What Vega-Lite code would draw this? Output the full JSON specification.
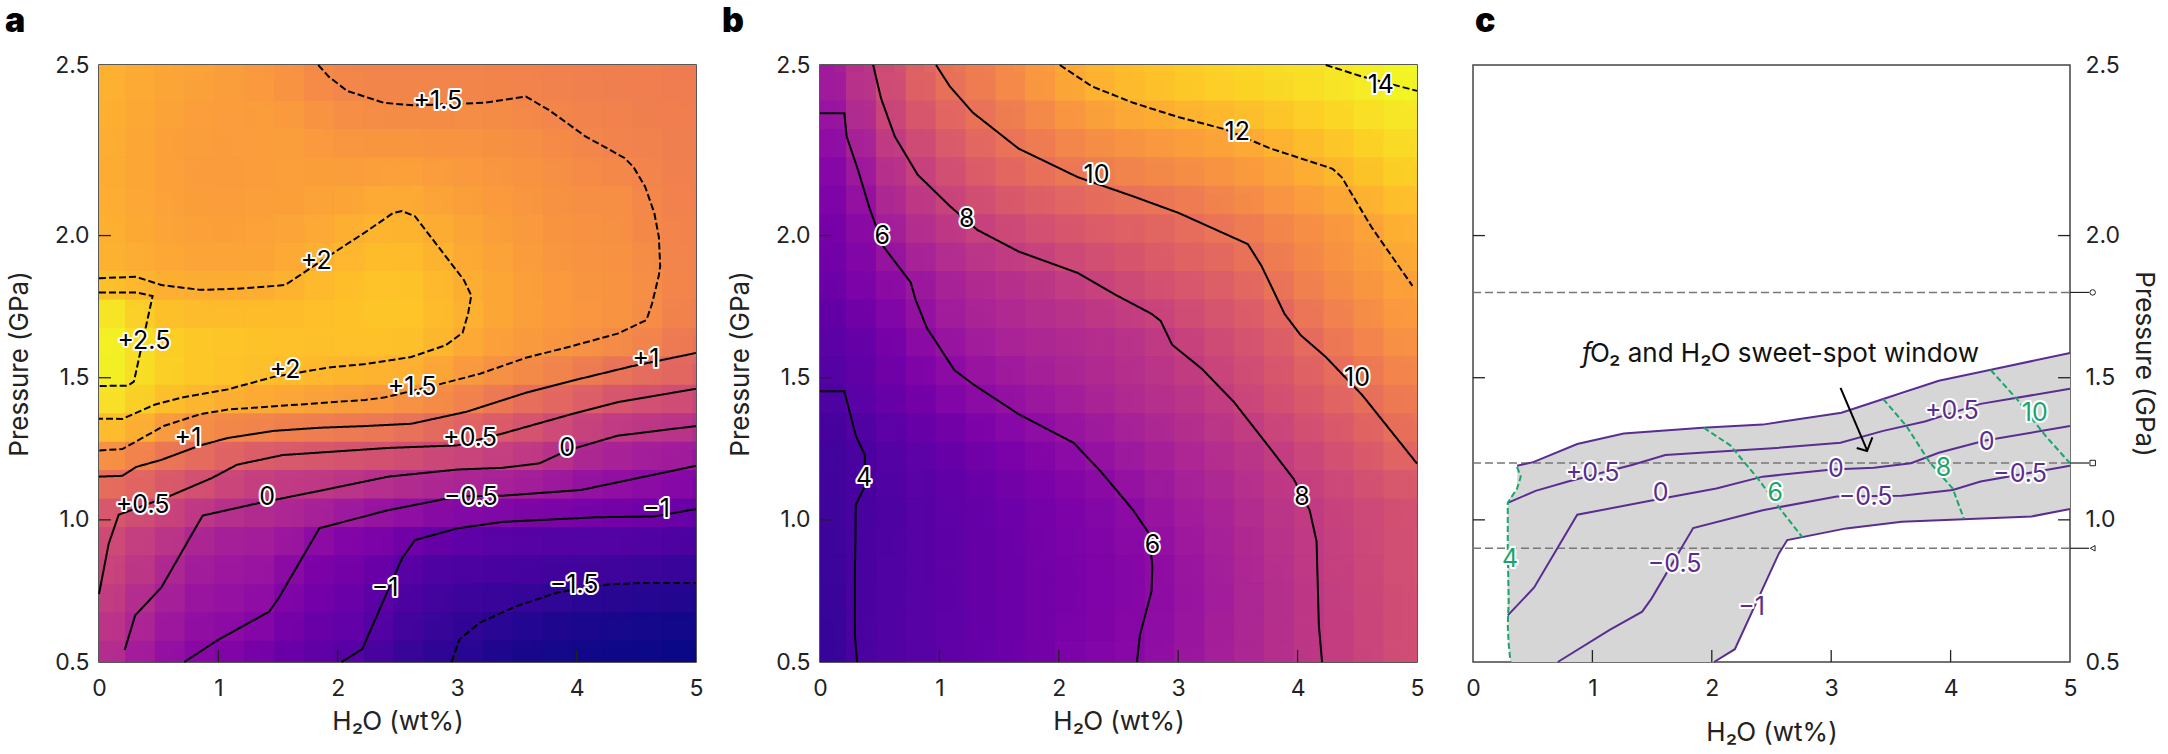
{
"$schema":"https://vega.github.io/schema/vega-lite/v6.json",
"padding":{"left":4,"top":4,"right":0,"bottom":0},
"background":"white",
"config":{"font":"Inter","view":{"stroke":"#222","strokeWidth":1.5},"axis":{"grid":false,"domain":false,"ticks":false,"labelFontSize":23,"titleFontSize":26,"labelColor":"#222","titleColor":"#222","titleFontWeight":"normal","labelPadding":10,"titlePadding":22,"zindex":1},"axisX":{"labelPadding":15,"titlePadding":8},"title":{"fontSize":34,"fontWeight":900,"color":"black","anchor":"start","frame":"group","offset":15}},
"datasets":{
"ticksAB":[
{"r":"x1","h":1,"p":0.5},{"r":"x1","h":1,"p":0.542},{"r":"x2","h":2,"p":0.5},{"r":"x2","h":2,"p":0.542},{"r":"x3","h":3,"p":0.5},{"r":"x3","h":3,"p":0.542},{"r":"x4","h":4,"p":0.5},{"r":"x4","h":4,"p":0.542},
{"r":"y1","h":0,"p":1},{"r":"y1","h":0.1,"p":1},{"r":"y2","h":0,"p":1.5},{"r":"y2","h":0.1,"p":1.5},{"r":"y3","h":0,"p":2},{"r":"y3","h":0.1,"p":2}
],
"ticksC":[
{"r":"x1","h":1,"p":0.5},{"r":"x1","h":1,"p":0.542},{"r":"x2","h":2,"p":0.5},{"r":"x2","h":2,"p":0.542},{"r":"x3","h":3,"p":0.5},{"r":"x3","h":3,"p":0.542},{"r":"x4","h":4,"p":0.5},{"r":"x4","h":4,"p":0.542},
{"r":"y1","h":0,"p":1},{"r":"y1","h":0.1,"p":1},{"r":"y2","h":0,"p":1.5},{"r":"y2","h":0.1,"p":1.5},{"r":"y3","h":0,"p":2},{"r":"y3","h":0.1,"p":2},
{"r":"z1","h":4.9,"p":1},{"r":"z1","h":5,"p":1},{"r":"z2","h":4.9,"p":1.5},{"r":"z2","h":5,"p":1.5},{"r":"z3","h":4.9,"p":2},{"r":"z3","h":5,"p":2}
],
"heatA":[
{"h":0,"p":0.5,"v":0.25},{"h":0.25,"p":0.5,"v":-0.12},{"h":0.5,"p":0.5,"v":-0.3},{"h":0.75,"p":0.5,"v":-0.52},{"h":1,"p":0.5,"v":-0.62},{"h":1.25,"p":0.5,"v":-0.72},{"h":1.5,"p":0.5,"v":-0.85},{"h":1.75,"p":0.5,"v":-0.95},{"h":2,"p":0.5,"v":-1.02},{"h":2.25,"p":0.5,"v":-1.2},{"h":2.5,"p":0.5,"v":-1.35},{"h":2.75,"p":0.5,"v":-1.45},{"h":3,"p":0.5,"v":-1.52},{"h":3.25,"p":0.5,"v":-1.6},{"h":3.5,"p":0.5,"v":-1.65},{"h":3.75,"p":0.5,"v":-1.68},{"h":4,"p":0.5,"v":-1.7},{"h":4.25,"p":0.5,"v":-1.72},{"h":4.5,"p":0.5,"v":-1.73},{"h":4.75,"p":0.5,"v":-1.74},{"h":5,"p":0.5,"v":-1.75},
{"h":0,"p":0.6,"v":0.36},{"h":0.25,"p":0.6,"v":0},{"h":0.5,"p":0.6,"v":-0.2},{"h":0.75,"p":0.6,"v":-0.38},{"h":1,"p":0.6,"v":-0.47},{"h":1.25,"p":0.6,"v":-0.56},{"h":1.5,"p":0.6,"v":-0.72},{"h":1.75,"p":0.6,"v":-0.85},{"h":2,"p":0.6,"v":-0.95},{"h":2.25,"p":0.6,"v":-1},{"h":2.5,"p":0.6,"v":-1.25},{"h":2.75,"p":0.6,"v":-1.38},{"h":3,"p":0.6,"v":-1.45},{"h":3.25,"p":0.6,"v":-1.53},{"h":3.5,"p":0.6,"v":-1.58},{"h":3.75,"p":0.6,"v":-1.62},{"h":4,"p":0.6,"v":-1.65},{"h":4.25,"p":0.6,"v":-1.67},{"h":4.5,"p":0.6,"v":-1.68},{"h":4.75,"p":0.6,"v":-1.7},{"h":5,"p":0.6,"v":-1.72},
{"h":0,"p":0.7,"v":0.46},{"h":0.25,"p":0.7,"v":0.12},{"h":0.5,"p":0.7,"v":-0.06},{"h":0.75,"p":0.7,"v":-0.27},{"h":1,"p":0.7,"v":-0.38},{"h":1.25,"p":0.7,"v":-0.42},{"h":1.5,"p":0.7,"v":-0.54},{"h":1.75,"p":0.7,"v":-0.75},{"h":2,"p":0.7,"v":-0.85},{"h":2.25,"p":0.7,"v":-0.92},{"h":2.5,"p":0.7,"v":-1.12},{"h":2.75,"p":0.7,"v":-1.28},{"h":3,"p":0.7,"v":-1.37},{"h":3.25,"p":0.7,"v":-1.43},{"h":3.5,"p":0.7,"v":-1.5},{"h":3.75,"p":0.7,"v":-1.54},{"h":4,"p":0.7,"v":-1.57},{"h":4.25,"p":0.7,"v":-1.6},{"h":4.5,"p":0.7,"v":-1.62},{"h":4.75,"p":0.7,"v":-1.64},{"h":5,"p":0.7,"v":-1.66},
{"h":0,"p":0.8,"v":0.57},{"h":0.25,"p":0.8,"v":0.24},{"h":0.5,"p":0.8,"v":0.08},{"h":0.75,"p":0.8,"v":-0.17},{"h":1,"p":0.8,"v":-0.28},{"h":1.25,"p":0.8,"v":-0.32},{"h":1.5,"p":0.8,"v":-0.38},{"h":1.75,"p":0.8,"v":-0.62},{"h":2,"p":0.8,"v":-0.75},{"h":2.25,"p":0.8,"v":-0.82},{"h":2.5,"p":0.8,"v":-1.02},{"h":2.75,"p":0.8,"v":-1.18},{"h":3,"p":0.8,"v":-1.25},{"h":3.25,"p":0.8,"v":-1.3},{"h":3.5,"p":0.8,"v":-1.33},{"h":3.75,"p":0.8,"v":-1.37},{"h":4,"p":0.8,"v":-1.42},{"h":4.25,"p":0.8,"v":-1.45},{"h":4.5,"p":0.8,"v":-1.48},{"h":4.75,"p":0.8,"v":-1.5},{"h":5,"p":0.8,"v":-1.52},
{"h":0,"p":0.9,"v":0.69},{"h":0.25,"p":0.9,"v":0.35},{"h":0.5,"p":0.9,"v":0.22},{"h":0.75,"p":0.9,"v":-0.05},{"h":1,"p":0.9,"v":-0.18},{"h":1.25,"p":0.9,"v":-0.22},{"h":1.5,"p":0.9,"v":-0.26},{"h":1.75,"p":0.9,"v":-0.5},{"h":2,"p":0.9,"v":-0.65},{"h":2.25,"p":0.9,"v":-0.7},{"h":2.5,"p":0.9,"v":-0.85},{"h":2.75,"p":0.9,"v":-1.07},{"h":3,"p":0.9,"v":-1.12},{"h":3.25,"p":0.9,"v":-1.15},{"h":3.5,"p":0.9,"v":-1.17},{"h":3.75,"p":0.9,"v":-1.18},{"h":4,"p":0.9,"v":-1.22},{"h":4.25,"p":0.9,"v":-1.23},{"h":4.5,"p":0.9,"v":-1.25},{"h":4.75,"p":0.9,"v":-1.28},{"h":5,"p":0.9,"v":-1.32},
{"h":0,"p":1,"v":0.8},{"h":0.25,"p":1,"v":0.46},{"h":0.5,"p":1,"v":0.38},{"h":0.75,"p":1,"v":0.2},{"h":1,"p":1,"v":-0.05},{"h":1.25,"p":1,"v":-0.1},{"h":1.5,"p":1,"v":-0.12},{"h":1.75,"p":1,"v":-0.25},{"h":2,"p":1,"v":-0.45},{"h":2.25,"p":1,"v":-0.55},{"h":2.5,"p":1,"v":-0.6},{"h":2.75,"p":1,"v":-0.75},{"h":3,"p":1,"v":-0.85},{"h":3.25,"p":1,"v":-0.92},{"h":3.5,"p":1,"v":-0.98},{"h":3.75,"p":1,"v":-1},{"h":4,"p":1,"v":-1.02},{"h":4.25,"p":1,"v":-1.02},{"h":4.5,"p":1,"v":-1.03},{"h":4.75,"p":1,"v":-1.05},{"h":5,"p":1,"v":-1.1},
{"h":0,"p":1.1,"v":0.93},{"h":0.25,"p":1.1,"v":0.72},{"h":0.5,"p":1.1,"v":0.62},{"h":0.75,"p":1.1,"v":0.42},{"h":1,"p":1.1,"v":0.3},{"h":1.25,"p":1.1,"v":0.17},{"h":1.5,"p":1.1,"v":0.1},{"h":1.75,"p":1.1,"v":0.03},{"h":2,"p":1.1,"v":-0.03},{"h":2.25,"p":1.1,"v":-0.15},{"h":2.5,"p":1.1,"v":-0.25},{"h":2.75,"p":1.1,"v":-0.32},{"h":3,"p":1.1,"v":-0.4},{"h":3.25,"p":1.1,"v":-0.42},{"h":3.5,"p":1.1,"v":-0.45},{"h":3.75,"p":1.1,"v":-0.5},{"h":4,"p":1.1,"v":-0.52},{"h":4.25,"p":1.1,"v":-0.6},{"h":4.5,"p":1.1,"v":-0.65},{"h":4.75,"p":1.1,"v":-0.72},{"h":5,"p":1.1,"v":-0.78},
{"h":0,"p":1.2,"v":1.22},{"h":0.25,"p":1.2,"v":1.1},{"h":0.5,"p":1.2,"v":0.98},{"h":0.75,"p":1.2,"v":0.8},{"h":1,"p":1.2,"v":0.7},{"h":1.25,"p":1.2,"v":0.5},{"h":1.5,"p":1.2,"v":0.42},{"h":1.75,"p":1.2,"v":0.38},{"h":2,"p":1.2,"v":0.35},{"h":2.25,"p":1.2,"v":0.3},{"h":2.5,"p":1.2,"v":0.22},{"h":2.75,"p":1.2,"v":0.17},{"h":3,"p":1.2,"v":0.12},{"h":3.25,"p":1.2,"v":0.08},{"h":3.5,"p":1.2,"v":0.03},{"h":3.75,"p":1.2,"v":-0.05},{"h":4,"p":1.2,"v":-0.18},{"h":4.25,"p":1.2,"v":-0.28},{"h":4.5,"p":1.2,"v":-0.3},{"h":4.75,"p":1.2,"v":-0.38},{"h":5,"p":1.2,"v":-0.44},
{"h":0,"p":1.3,"v":1.75},{"h":0.25,"p":1.3,"v":1.62},{"h":0.5,"p":1.3,"v":1.4},{"h":0.75,"p":1.3,"v":1.2},{"h":1,"p":1.3,"v":1.1},{"h":1.25,"p":1.3,"v":1},{"h":1.5,"p":1.3,"v":0.92},{"h":1.75,"p":1.3,"v":0.87},{"h":2,"p":1.3,"v":0.83},{"h":2.25,"p":1.3,"v":0.8},{"h":2.5,"p":1.3,"v":0.78},{"h":2.75,"p":1.3,"v":0.7},{"h":3,"p":1.3,"v":0.6},{"h":3.25,"p":1.3,"v":0.57},{"h":3.5,"p":1.3,"v":0.44},{"h":3.75,"p":1.3,"v":0.35},{"h":4,"p":1.3,"v":0.2},{"h":4.25,"p":1.3,"v":0.05},{"h":4.5,"p":1.3,"v":-0.03},{"h":4.75,"p":1.3,"v":-0.07},{"h":5,"p":1.3,"v":-0.1},
{"h":0,"p":1.4,"v":2.2},{"h":0.25,"p":1.4,"v":2.2},{"h":0.5,"p":1.4,"v":1.95},{"h":0.75,"p":1.4,"v":1.68},{"h":1,"p":1.4,"v":1.58},{"h":1.25,"p":1.4,"v":1.53},{"h":1.5,"p":1.4,"v":1.5},{"h":1.75,"p":1.4,"v":1.45},{"h":2,"p":1.4,"v":1.4},{"h":2.25,"p":1.4,"v":1.38},{"h":2.5,"p":1.4,"v":1.32},{"h":2.75,"p":1.4,"v":1.22},{"h":3,"p":1.4,"v":1.1},{"h":3.25,"p":1.4,"v":1},{"h":3.5,"p":1.4,"v":0.85},{"h":3.75,"p":1.4,"v":0.75},{"h":4,"p":1.4,"v":0.6},{"h":4.25,"p":1.4,"v":0.47},{"h":4.5,"p":1.4,"v":0.38},{"h":4.75,"p":1.4,"v":0.32},{"h":5,"p":1.4,"v":0.25},
{"h":0,"p":1.5,"v":2.55},{"h":0.25,"p":1.5,"v":2.53},{"h":0.5,"p":1.5,"v":2.25},{"h":0.75,"p":1.5,"v":2.15},{"h":1,"p":1.5,"v":2.08},{"h":1.25,"p":1.5,"v":2},{"h":1.5,"p":1.5,"v":1.95},{"h":1.75,"p":1.5,"v":1.9},{"h":2,"p":1.5,"v":1.85},{"h":2.25,"p":1.5,"v":1.8},{"h":2.5,"p":1.5,"v":1.72},{"h":2.75,"p":1.5,"v":1.62},{"h":3,"p":1.5,"v":1.55},{"h":3.25,"p":1.5,"v":1.4},{"h":3.5,"p":1.5,"v":1.28},{"h":3.75,"p":1.5,"v":1.14},{"h":4,"p":1.5,"v":1.04},{"h":4.25,"p":1.5,"v":0.92},{"h":4.5,"p":1.5,"v":0.8},{"h":4.75,"p":1.5,"v":0.72},{"h":5,"p":1.5,"v":0.65},
{"h":0,"p":1.6,"v":2.65},{"h":0.25,"p":1.6,"v":2.6},{"h":0.5,"p":1.6,"v":2.35},{"h":0.75,"p":1.6,"v":2.25},{"h":1,"p":1.6,"v":2.2},{"h":1.25,"p":1.6,"v":2.17},{"h":1.5,"p":1.6,"v":2.12},{"h":1.75,"p":1.6,"v":2.1},{"h":2,"p":1.6,"v":2.07},{"h":2.25,"p":1.6,"v":2.05},{"h":2.5,"p":1.6,"v":2.05},{"h":2.75,"p":1.6,"v":2},{"h":3,"p":1.6,"v":1.82},{"h":3.25,"p":1.6,"v":1.68},{"h":3.5,"p":1.6,"v":1.58},{"h":3.75,"p":1.6,"v":1.53},{"h":4,"p":1.6,"v":1.44},{"h":4.25,"p":1.6,"v":1.33},{"h":4.5,"p":1.6,"v":1.2},{"h":4.75,"p":1.6,"v":1.12},{"h":5,"p":1.6,"v":1.05},
{"h":0,"p":1.7,"v":2.62},{"h":0.25,"p":1.7,"v":2.58},{"h":0.5,"p":1.7,"v":2.32},{"h":0.75,"p":1.7,"v":2.22},{"h":1,"p":1.7,"v":2.18},{"h":1.25,"p":1.7,"v":2.15},{"h":1.5,"p":1.7,"v":2.12},{"h":1.75,"p":1.7,"v":2.12},{"h":2,"p":1.7,"v":2.12},{"h":2.25,"p":1.7,"v":2.15},{"h":2.5,"p":1.7,"v":2.15},{"h":2.75,"p":1.7,"v":2.12},{"h":3,"p":1.7,"v":2},{"h":3.25,"p":1.7,"v":1.85},{"h":3.5,"p":1.7,"v":1.75},{"h":3.75,"p":1.7,"v":1.68},{"h":4,"p":1.7,"v":1.63},{"h":4.25,"p":1.7,"v":1.58},{"h":4.5,"p":1.7,"v":1.52},{"h":4.75,"p":1.7,"v":1.4},{"h":5,"p":1.7,"v":1.25},
{"h":0,"p":1.8,"v":2.5},{"h":0.25,"p":1.8,"v":2.45},{"h":0.5,"p":1.8,"v":2.1},{"h":0.75,"p":1.8,"v":2.05},{"h":1,"p":1.8,"v":2.02},{"h":1.25,"p":1.8,"v":2.03},{"h":1.5,"p":1.8,"v":2.03},{"h":1.75,"p":1.8,"v":2.07},{"h":2,"p":1.8,"v":2.1},{"h":2.25,"p":1.8,"v":2.15},{"h":2.5,"p":1.8,"v":2.2},{"h":2.75,"p":1.8,"v":2.15},{"h":3,"p":1.8,"v":2.02},{"h":3.25,"p":1.8,"v":1.9},{"h":3.5,"p":1.8,"v":1.8},{"h":3.75,"p":1.8,"v":1.72},{"h":4,"p":1.8,"v":1.65},{"h":4.25,"p":1.8,"v":1.62},{"h":4.5,"p":1.8,"v":1.58},{"h":4.75,"p":1.8,"v":1.48},{"h":5,"p":1.8,"v":1.33},
{"h":0,"p":1.9,"v":2},{"h":0.25,"p":1.9,"v":1.97},{"h":0.5,"p":1.9,"v":1.9},{"h":0.75,"p":1.9,"v":1.87},{"h":1,"p":1.9,"v":1.85},{"h":1.25,"p":1.9,"v":1.86},{"h":1.5,"p":1.9,"v":1.88},{"h":1.75,"p":1.9,"v":1.98},{"h":2,"p":1.9,"v":2.05},{"h":2.25,"p":1.9,"v":2.1},{"h":2.5,"p":1.9,"v":2.15},{"h":2.75,"p":1.9,"v":2.1},{"h":3,"p":1.9,"v":1.97},{"h":3.25,"p":1.9,"v":1.87},{"h":3.5,"p":1.9,"v":1.78},{"h":3.75,"p":1.9,"v":1.7},{"h":4,"p":1.9,"v":1.63},{"h":4.25,"p":1.9,"v":1.6},{"h":4.5,"p":1.9,"v":1.56},{"h":4.75,"p":1.9,"v":1.48},{"h":5,"p":1.9,"v":1.36},
{"h":0,"p":2,"v":1.95},{"h":0.25,"p":2,"v":1.93},{"h":0.5,"p":2,"v":1.85},{"h":0.75,"p":2,"v":1.8},{"h":1,"p":2,"v":1.77},{"h":1.25,"p":2,"v":1.79},{"h":1.5,"p":2,"v":1.8},{"h":1.75,"p":2,"v":1.85},{"h":2,"p":2,"v":1.93},{"h":2.25,"p":2,"v":2.02},{"h":2.5,"p":2,"v":2.07},{"h":2.75,"p":2,"v":2.02},{"h":3,"p":2,"v":1.9},{"h":3.25,"p":2,"v":1.82},{"h":3.5,"p":2,"v":1.74},{"h":3.75,"p":2,"v":1.67},{"h":4,"p":2,"v":1.6},{"h":4.25,"p":2,"v":1.57},{"h":4.5,"p":2,"v":1.55},{"h":4.75,"p":2,"v":1.46},{"h":5,"p":2,"v":1.36},
{"h":0,"p":2.1,"v":1.93},{"h":0.25,"p":2.1,"v":1.9},{"h":0.5,"p":2.1,"v":1.82},{"h":0.75,"p":2.1,"v":1.76},{"h":1,"p":2.1,"v":1.73},{"h":1.25,"p":2.1,"v":1.74},{"h":1.5,"p":2.1,"v":1.76},{"h":1.75,"p":2.1,"v":1.78},{"h":2,"p":2.1,"v":1.85},{"h":2.25,"p":2.1,"v":1.92},{"h":2.5,"p":2.1,"v":1.98},{"h":2.75,"p":2.1,"v":1.93},{"h":3,"p":2.1,"v":1.83},{"h":3.25,"p":2.1,"v":1.76},{"h":3.5,"p":2.1,"v":1.7},{"h":3.75,"p":2.1,"v":1.63},{"h":4,"p":2.1,"v":1.57},{"h":4.25,"p":2.1,"v":1.55},{"h":4.5,"p":2.1,"v":1.52},{"h":4.75,"p":2.1,"v":1.42},{"h":5,"p":2.1,"v":1.35},
{"h":0,"p":2.2,"v":1.92},{"h":0.25,"p":2.2,"v":1.88},{"h":0.5,"p":2.2,"v":1.8},{"h":0.75,"p":2.2,"v":1.73},{"h":1,"p":2.2,"v":1.7},{"h":1.25,"p":2.2,"v":1.71},{"h":1.5,"p":2.2,"v":1.73},{"h":1.75,"p":2.2,"v":1.75},{"h":2,"p":2.2,"v":1.77},{"h":2.25,"p":2.2,"v":1.8},{"h":2.5,"p":2.2,"v":1.85},{"h":2.75,"p":2.2,"v":1.82},{"h":3,"p":2.2,"v":1.75},{"h":3.25,"p":2.2,"v":1.7},{"h":3.5,"p":2.2,"v":1.65},{"h":3.75,"p":2.2,"v":1.6},{"h":4,"p":2.2,"v":1.54},{"h":4.25,"p":2.2,"v":1.52},{"h":4.5,"p":2.2,"v":1.5},{"h":4.75,"p":2.2,"v":1.38},{"h":5,"p":2.2,"v":1.34},
{"h":0,"p":2.3,"v":1.92},{"h":0.25,"p":2.3,"v":1.87},{"h":0.5,"p":2.3,"v":1.79},{"h":0.75,"p":2.3,"v":1.72},{"h":1,"p":2.3,"v":1.68},{"h":1.25,"p":2.3,"v":1.7},{"h":1.5,"p":2.3,"v":1.72},{"h":1.75,"p":2.3,"v":1.73},{"h":2,"p":2.3,"v":1.7},{"h":2.25,"p":2.3,"v":1.7},{"h":2.5,"p":2.3,"v":1.72},{"h":2.75,"p":2.3,"v":1.71},{"h":3,"p":2.3,"v":1.67},{"h":3.25,"p":2.3,"v":1.63},{"h":3.5,"p":2.3,"v":1.6},{"h":3.75,"p":2.3,"v":1.57},{"h":4,"p":2.3,"v":1.51},{"h":4.25,"p":2.3,"v":1.44},{"h":4.5,"p":2.3,"v":1.4},{"h":4.75,"p":2.3,"v":1.35},{"h":5,"p":2.3,"v":1.32},
{"h":0,"p":2.4,"v":1.93},{"h":0.25,"p":2.4,"v":1.88},{"h":0.5,"p":2.4,"v":1.8},{"h":0.75,"p":2.4,"v":1.73},{"h":1,"p":2.4,"v":1.69},{"h":1.25,"p":2.4,"v":1.71},{"h":1.5,"p":2.4,"v":1.72},{"h":1.75,"p":2.4,"v":1.69},{"h":2,"p":2.4,"v":1.62},{"h":2.25,"p":2.4,"v":1.6},{"h":2.5,"p":2.4,"v":1.58},{"h":2.75,"p":2.4,"v":1.6},{"h":3,"p":2.4,"v":1.57},{"h":3.25,"p":2.4,"v":1.56},{"h":3.5,"p":2.4,"v":1.54},{"h":3.75,"p":2.4,"v":1.49},{"h":4,"p":2.4,"v":1.44},{"h":4.25,"p":2.4,"v":1.39},{"h":4.5,"p":2.4,"v":1.36},{"h":4.75,"p":2.4,"v":1.33},{"h":5,"p":2.4,"v":1.31},
{"h":0,"p":2.5,"v":1.95},{"h":0.25,"p":2.5,"v":1.9},{"h":0.5,"p":2.5,"v":1.82},{"h":0.75,"p":2.5,"v":1.76},{"h":1,"p":2.5,"v":1.72},{"h":1.25,"p":2.5,"v":1.72},{"h":1.5,"p":2.5,"v":1.7},{"h":1.75,"p":2.5,"v":1.63},{"h":2,"p":2.5,"v":1.53},{"h":2.25,"p":2.5,"v":1.48},{"h":2.5,"p":2.5,"v":1.47},{"h":2.75,"p":2.5,"v":1.47},{"h":3,"p":2.5,"v":1.47},{"h":3.25,"p":2.5,"v":1.48},{"h":3.5,"p":2.5,"v":1.47},{"h":3.75,"p":2.5,"v":1.42},{"h":4,"p":2.5,"v":1.38},{"h":4.25,"p":2.5,"v":1.36},{"h":4.5,"p":2.5,"v":1.34},{"h":4.75,"p":2.5,"v":1.31},{"h":5,"p":2.5,"v":1.3},
{"h":0,"p":2.6,"v":1.97},{"h":0.25,"p":2.6,"v":1.92},{"h":0.5,"p":2.6,"v":1.84},{"h":0.75,"p":2.6,"v":1.8},{"h":1,"p":2.6,"v":1.76},{"h":1.25,"p":2.6,"v":1.68},{"h":1.5,"p":2.6,"v":1.62},{"h":1.75,"p":2.6,"v":1.53},{"h":2,"p":2.6,"v":1.42},{"h":2.25,"p":2.6,"v":1.38},{"h":2.5,"p":2.6,"v":1.38},{"h":2.75,"p":2.6,"v":1.38},{"h":3,"p":2.6,"v":1.38},{"h":3.25,"p":2.6,"v":1.38},{"h":3.5,"p":2.6,"v":1.37},{"h":3.75,"p":2.6,"v":1.35},{"h":4,"p":2.6,"v":1.33},{"h":4.25,"p":2.6,"v":1.32},{"h":4.5,"p":2.6,"v":1.31},{"h":4.75,"p":2.6,"v":1.3},{"h":5,"p":2.6,"v":1.28}
],
"heatB":[
{"h":0,"p":0.5,"v":3.1},{"h":0.25,"p":0.5,"v":3.85},{"h":0.5,"p":0.5,"v":4.2},{"h":0.75,"p":0.5,"v":4.4},{"h":1,"p":0.5,"v":4.6},{"h":1.25,"p":0.5,"v":4.8},{"h":1.5,"p":0.5,"v":5},{"h":1.75,"p":0.5,"v":5.25},{"h":2,"p":0.5,"v":5.45},{"h":2.25,"p":0.5,"v":5.65},{"h":2.5,"p":0.5,"v":5.87},{"h":2.75,"p":0.5,"v":6.13},{"h":3,"p":0.5,"v":6.45},{"h":3.25,"p":0.5,"v":6.77},{"h":3.5,"p":0.5,"v":7.1},{"h":3.75,"p":0.5,"v":7.42},{"h":4,"p":0.5,"v":7.75},{"h":4.25,"p":0.5,"v":8.05},{"h":4.5,"p":0.5,"v":8.35},{"h":4.75,"p":0.5,"v":8.65},{"h":5,"p":0.5,"v":8.95},
{"h":0,"p":0.6,"v":3.15},{"h":0.25,"p":0.6,"v":3.87},{"h":0.5,"p":0.6,"v":4.2},{"h":0.75,"p":0.6,"v":4.4},{"h":1,"p":0.6,"v":4.6},{"h":1.25,"p":0.6,"v":4.8},{"h":1.5,"p":0.6,"v":5},{"h":1.75,"p":0.6,"v":5.22},{"h":2,"p":0.6,"v":5.43},{"h":2.25,"p":0.6,"v":5.63},{"h":2.5,"p":0.6,"v":5.84},{"h":2.75,"p":0.6,"v":6.07},{"h":3,"p":0.6,"v":6.4},{"h":3.25,"p":0.6,"v":6.73},{"h":3.5,"p":0.6,"v":7.07},{"h":3.75,"p":0.6,"v":7.41},{"h":4,"p":0.6,"v":7.75},{"h":4.25,"p":0.6,"v":8.07},{"h":4.5,"p":0.6,"v":8.37},{"h":4.75,"p":0.6,"v":8.67},{"h":5,"p":0.6,"v":8.97},
{"h":0,"p":0.7,"v":3.2},{"h":0.25,"p":0.7,"v":3.88},{"h":0.5,"p":0.7,"v":4.19},{"h":0.75,"p":0.7,"v":4.38},{"h":1,"p":0.7,"v":4.59},{"h":1.25,"p":0.7,"v":4.79},{"h":1.5,"p":0.7,"v":4.99},{"h":1.75,"p":0.7,"v":5.2},{"h":2,"p":0.7,"v":5.4},{"h":2.25,"p":0.7,"v":5.6},{"h":2.5,"p":0.7,"v":5.8},{"h":2.75,"p":0.7,"v":6},{"h":3,"p":0.7,"v":6.34},{"h":3.25,"p":0.7,"v":6.7},{"h":3.5,"p":0.7,"v":7.05},{"h":3.75,"p":0.7,"v":7.4},{"h":4,"p":0.7,"v":7.75},{"h":4.25,"p":0.7,"v":8.08},{"h":4.5,"p":0.7,"v":8.38},{"h":4.75,"p":0.7,"v":8.68},{"h":5,"p":0.7,"v":8.98},
{"h":0,"p":0.8,"v":3.3},{"h":0.25,"p":0.8,"v":3.9},{"h":0.5,"p":0.8,"v":4.18},{"h":0.75,"p":0.8,"v":4.37},{"h":1,"p":0.8,"v":4.58},{"h":1.25,"p":0.8,"v":4.78},{"h":1.5,"p":0.8,"v":4.98},{"h":1.75,"p":0.8,"v":5.18},{"h":2,"p":0.8,"v":5.38},{"h":2.25,"p":0.8,"v":5.58},{"h":2.5,"p":0.8,"v":5.78},{"h":2.75,"p":0.8,"v":5.97},{"h":3,"p":0.8,"v":6.3},{"h":3.25,"p":0.8,"v":6.67},{"h":3.5,"p":0.8,"v":7.03},{"h":3.75,"p":0.8,"v":7.4},{"h":4,"p":0.8,"v":7.75},{"h":4.25,"p":0.8,"v":8.1},{"h":4.5,"p":0.8,"v":8.4},{"h":4.75,"p":0.8,"v":8.7},{"h":5,"p":0.8,"v":9},
{"h":0,"p":0.9,"v":3.4},{"h":0.25,"p":0.9,"v":3.92},{"h":0.5,"p":0.9,"v":4.16},{"h":0.75,"p":0.9,"v":4.36},{"h":1,"p":0.9,"v":4.58},{"h":1.25,"p":0.9,"v":4.78},{"h":1.5,"p":0.9,"v":4.99},{"h":1.75,"p":0.9,"v":5.2},{"h":2,"p":0.9,"v":5.41},{"h":2.25,"p":0.9,"v":5.62},{"h":2.5,"p":0.9,"v":5.82},{"h":2.75,"p":0.9,"v":6.02},{"h":3,"p":0.9,"v":6.4},{"h":3.25,"p":0.9,"v":6.75},{"h":3.5,"p":0.9,"v":7.1},{"h":3.75,"p":0.9,"v":7.47},{"h":4,"p":0.9,"v":7.82},{"h":4.25,"p":0.9,"v":8.15},{"h":4.5,"p":0.9,"v":8.46},{"h":4.75,"p":0.9,"v":8.75},{"h":5,"p":0.9,"v":9.03},
{"h":0,"p":1,"v":3.5},{"h":0.25,"p":1,"v":3.93},{"h":0.5,"p":1,"v":4.14},{"h":0.75,"p":1,"v":4.35},{"h":1,"p":1,"v":4.58},{"h":1.25,"p":1,"v":4.79},{"h":1.5,"p":1,"v":5.01},{"h":1.75,"p":1,"v":5.22},{"h":2,"p":1,"v":5.45},{"h":2.25,"p":1,"v":5.66},{"h":2.5,"p":1,"v":5.88},{"h":2.75,"p":1,"v":6.15},{"h":3,"p":1,"v":6.52},{"h":3.25,"p":1,"v":6.88},{"h":3.5,"p":1,"v":7.2},{"h":3.75,"p":1,"v":7.55},{"h":4,"p":1,"v":7.9},{"h":4.25,"p":1,"v":8.22},{"h":4.5,"p":1,"v":8.52},{"h":4.75,"p":1,"v":8.8},{"h":5,"p":1,"v":9.06},
{"h":0,"p":1.1,"v":3.6},{"h":0.25,"p":1.1,"v":3.92},{"h":0.5,"p":1.1,"v":4.12},{"h":0.75,"p":1.1,"v":4.35},{"h":1,"p":1.1,"v":4.58},{"h":1.25,"p":1.1,"v":4.8},{"h":1.5,"p":1.1,"v":5.03},{"h":1.75,"p":1.1,"v":5.25},{"h":2,"p":1.1,"v":5.5},{"h":2.25,"p":1.1,"v":5.72},{"h":2.5,"p":1.1,"v":5.95},{"h":2.75,"p":1.1,"v":6.3},{"h":3,"p":1.1,"v":6.65},{"h":3.25,"p":1.1,"v":7},{"h":3.5,"p":1.1,"v":7.3},{"h":3.75,"p":1.1,"v":7.65},{"h":4,"p":1.1,"v":8},{"h":4.25,"p":1.1,"v":8.3},{"h":4.5,"p":1.1,"v":8.6},{"h":4.75,"p":1.1,"v":8.85},{"h":5,"p":1.1,"v":9.1},
{"h":0,"p":1.2,"v":3.7},{"h":0.25,"p":1.2,"v":3.92},{"h":0.5,"p":1.2,"v":4.16},{"h":0.75,"p":1.2,"v":4.43},{"h":1,"p":1.2,"v":4.7},{"h":1.25,"p":1.2,"v":4.95},{"h":1.5,"p":1.2,"v":5.2},{"h":1.75,"p":1.2,"v":5.47},{"h":2,"p":1.2,"v":5.73},{"h":2.25,"p":1.2,"v":6},{"h":2.5,"p":1.2,"v":6.27},{"h":2.75,"p":1.2,"v":6.6},{"h":3,"p":1.2,"v":6.9},{"h":3.25,"p":1.2,"v":7.22},{"h":3.5,"p":1.2,"v":7.5},{"h":3.75,"p":1.2,"v":7.83},{"h":4,"p":1.2,"v":8.2},{"h":4.25,"p":1.2,"v":8.55},{"h":4.5,"p":1.2,"v":8.9},{"h":4.75,"p":1.2,"v":9.22},{"h":5,"p":1.2,"v":9.55},
{"h":0,"p":1.3,"v":3.8},{"h":0.25,"p":1.3,"v":3.95},{"h":0.5,"p":1.3,"v":4.25},{"h":0.75,"p":1.3,"v":4.55},{"h":1,"p":1.3,"v":4.85},{"h":1.25,"p":1.3,"v":5.12},{"h":1.5,"p":1.3,"v":5.4},{"h":1.75,"p":1.3,"v":5.7},{"h":2,"p":1.3,"v":6},{"h":2.25,"p":1.3,"v":6.3},{"h":2.5,"p":1.3,"v":6.6},{"h":2.75,"p":1.3,"v":6.9},{"h":3,"p":1.3,"v":7.15},{"h":3.25,"p":1.3,"v":7.45},{"h":3.5,"p":1.3,"v":7.72},{"h":3.75,"p":1.3,"v":8.05},{"h":4,"p":1.3,"v":8.45},{"h":4.25,"p":1.3,"v":8.85},{"h":4.5,"p":1.3,"v":9.25},{"h":4.75,"p":1.3,"v":9.65},{"h":5,"p":1.3,"v":10.1},
{"h":0,"p":1.4,"v":3.93},{"h":0.25,"p":1.4,"v":4.15},{"h":0.5,"p":1.4,"v":4.5},{"h":0.75,"p":1.4,"v":4.85},{"h":1,"p":1.4,"v":5.2},{"h":1.25,"p":1.4,"v":5.55},{"h":1.5,"p":1.4,"v":5.9},{"h":1.75,"p":1.4,"v":6.15},{"h":2,"p":1.4,"v":6.42},{"h":2.25,"p":1.4,"v":6.7},{"h":2.5,"p":1.4,"v":6.97},{"h":2.75,"p":1.4,"v":7.25},{"h":3,"p":1.4,"v":7.5},{"h":3.25,"p":1.4,"v":7.75},{"h":3.5,"p":1.4,"v":8.08},{"h":3.75,"p":1.4,"v":8.45},{"h":4,"p":1.4,"v":8.85},{"h":4.25,"p":1.4,"v":9.25},{"h":4.5,"p":1.4,"v":9.65},{"h":4.75,"p":1.4,"v":10.05},{"h":5,"p":1.4,"v":10.5},
{"h":0,"p":1.5,"v":4.1},{"h":0.25,"p":1.5,"v":4.4},{"h":0.5,"p":1.5,"v":4.8},{"h":0.75,"p":1.5,"v":5.2},{"h":1,"p":1.5,"v":5.6},{"h":1.25,"p":1.5,"v":6.05},{"h":1.5,"p":1.5,"v":6.35},{"h":1.75,"p":1.5,"v":6.6},{"h":2,"p":1.5,"v":6.85},{"h":2.25,"p":1.5,"v":7.1},{"h":2.5,"p":1.5,"v":7.35},{"h":2.75,"p":1.5,"v":7.6},{"h":3,"p":1.5,"v":7.85},{"h":3.25,"p":1.5,"v":8.05},{"h":3.5,"p":1.5,"v":8.45},{"h":3.75,"p":1.5,"v":8.85},{"h":4,"p":1.5,"v":9.25},{"h":4.25,"p":1.5,"v":9.65},{"h":4.5,"p":1.5,"v":10.1},{"h":4.75,"p":1.5,"v":10.5},{"h":5,"p":1.5,"v":10.9},
{"h":0,"p":1.6,"v":4.3},{"h":0.25,"p":1.6,"v":4.55},{"h":0.5,"p":1.6,"v":4.95},{"h":0.75,"p":1.6,"v":5.45},{"h":1,"p":1.6,"v":6},{"h":1.25,"p":1.6,"v":6.4},{"h":1.5,"p":1.6,"v":6.7},{"h":1.75,"p":1.6,"v":6.95},{"h":2,"p":1.6,"v":7.15},{"h":2.25,"p":1.6,"v":7.35},{"h":2.5,"p":1.6,"v":7.55},{"h":2.75,"p":1.6,"v":7.75},{"h":3,"p":1.6,"v":8.05},{"h":3.25,"p":1.6,"v":8.35},{"h":3.5,"p":1.6,"v":8.72},{"h":3.75,"p":1.6,"v":9.1},{"h":4,"p":1.6,"v":9.5},{"h":4.25,"p":1.6,"v":10},{"h":4.5,"p":1.6,"v":10.45},{"h":4.75,"p":1.6,"v":10.9},{"h":5,"p":1.6,"v":11.3},
{"h":0,"p":1.7,"v":4.5},{"h":0.25,"p":1.7,"v":4.75},{"h":0.5,"p":1.7,"v":5.1},{"h":0.75,"p":1.7,"v":5.75},{"h":1,"p":1.7,"v":6.4},{"h":1.25,"p":1.7,"v":6.75},{"h":1.5,"p":1.7,"v":7.05},{"h":1.75,"p":1.7,"v":7.3},{"h":2,"p":1.7,"v":7.4},{"h":2.25,"p":1.7,"v":7.55},{"h":2.5,"p":1.7,"v":7.7},{"h":2.75,"p":1.7,"v":7.9},{"h":3,"p":1.7,"v":8.25},{"h":3.25,"p":1.7,"v":8.65},{"h":3.5,"p":1.7,"v":9},{"h":3.75,"p":1.7,"v":9.35},{"h":4,"p":1.7,"v":9.8},{"h":4.25,"p":1.7,"v":10.4},{"h":4.5,"p":1.7,"v":10.85},{"h":4.75,"p":1.7,"v":11.3},{"h":5,"p":1.7,"v":11.7},
{"h":0,"p":1.8,"v":4.7},{"h":0.25,"p":1.8,"v":5},{"h":0.5,"p":1.8,"v":5.5},{"h":0.75,"p":1.8,"v":6.05},{"h":1,"p":1.8,"v":6.65},{"h":1.25,"p":1.8,"v":7.05},{"h":1.5,"p":1.8,"v":7.35},{"h":1.75,"p":1.8,"v":7.55},{"h":2,"p":1.8,"v":7.75},{"h":2.25,"p":1.8,"v":7.95},{"h":2.5,"p":1.8,"v":8.2},{"h":2.75,"p":1.8,"v":8.45},{"h":3,"p":1.8,"v":8.75},{"h":3.25,"p":1.8,"v":9.1},{"h":3.5,"p":1.8,"v":9.4},{"h":3.75,"p":1.8,"v":9.75},{"h":4,"p":1.8,"v":10.25},{"h":4.25,"p":1.8,"v":10.8},{"h":4.5,"p":1.8,"v":11.2},{"h":4.75,"p":1.8,"v":11.6},{"h":5,"p":1.8,"v":11.95},
{"h":0,"p":1.9,"v":4.9},{"h":0.25,"p":1.9,"v":5.3},{"h":0.5,"p":1.9,"v":5.9},{"h":0.75,"p":1.9,"v":6.4},{"h":1,"p":1.9,"v":6.9},{"h":1.25,"p":1.9,"v":7.3},{"h":1.5,"p":1.9,"v":7.6},{"h":1.75,"p":1.9,"v":7.85},{"h":2,"p":1.9,"v":8.1},{"h":2.25,"p":1.9,"v":8.4},{"h":2.5,"p":1.9,"v":8.7},{"h":2.75,"p":1.9,"v":9},{"h":3,"p":1.9,"v":9.25},{"h":3.25,"p":1.9,"v":9.5},{"h":3.5,"p":1.9,"v":9.8},{"h":3.75,"p":1.9,"v":10.2},{"h":4,"p":1.9,"v":10.7},{"h":4.25,"p":1.9,"v":11.2},{"h":4.5,"p":1.9,"v":11.55},{"h":4.75,"p":1.9,"v":11.85},{"h":5,"p":1.9,"v":12.2},
{"h":0,"p":2,"v":5.1},{"h":0.25,"p":2,"v":5.45},{"h":0.5,"p":2,"v":6},{"h":0.75,"p":2,"v":6.9},{"h":1,"p":2,"v":7.4},{"h":1.25,"p":2,"v":7.8},{"h":1.5,"p":2,"v":8.1},{"h":1.75,"p":2,"v":8.4},{"h":2,"p":2,"v":8.65},{"h":2.25,"p":2,"v":8.95},{"h":2.5,"p":2,"v":9.2},{"h":2.75,"p":2,"v":9.45},{"h":3,"p":2,"v":9.7},{"h":3.25,"p":2,"v":9.95},{"h":3.5,"p":2,"v":10.2},{"h":3.75,"p":2,"v":10.6},{"h":4,"p":2,"v":11},{"h":4.25,"p":2,"v":11.4},{"h":4.5,"p":2,"v":11.72},{"h":4.75,"p":2,"v":12.05},{"h":5,"p":2,"v":12.45},
{"h":0,"p":2.1,"v":5.35},{"h":0.25,"p":2.1,"v":5.6},{"h":0.5,"p":2.1,"v":6.4},{"h":0.75,"p":2.1,"v":7.4},{"h":1,"p":2.1,"v":7.85},{"h":1.25,"p":2.1,"v":8.3},{"h":1.5,"p":2.1,"v":8.65},{"h":1.75,"p":2.1,"v":9},{"h":2,"p":2.1,"v":9.25},{"h":2.25,"p":2.1,"v":9.5},{"h":2.5,"p":2.1,"v":9.72},{"h":2.75,"p":2.1,"v":9.85},{"h":3,"p":2.1,"v":10.05},{"h":3.25,"p":2.1,"v":10.35},{"h":3.5,"p":2.1,"v":10.65},{"h":3.75,"p":2.1,"v":11},{"h":4,"p":2.1,"v":11.3},{"h":4.25,"p":2.1,"v":11.6},{"h":4.5,"p":2.1,"v":11.9},{"h":4.75,"p":2.1,"v":12.3},{"h":5,"p":2.1,"v":12.7},
{"h":0,"p":2.2,"v":5.55},{"h":0.25,"p":2.2,"v":5.85},{"h":0.5,"p":2.2,"v":6.8},{"h":0.75,"p":2.2,"v":7.8},{"h":1,"p":2.2,"v":8.3},{"h":1.25,"p":2.2,"v":8.8},{"h":1.5,"p":2.2,"v":9.25},{"h":1.75,"p":2.2,"v":9.65},{"h":2,"p":2.2,"v":9.9},{"h":2.25,"p":2.2,"v":10.15},{"h":2.5,"p":2.2,"v":10.4},{"h":2.75,"p":2.2,"v":10.55},{"h":3,"p":2.2,"v":10.75},{"h":3.25,"p":2.2,"v":11},{"h":3.5,"p":2.2,"v":11.25},{"h":3.75,"p":2.2,"v":11.5},{"h":4,"p":2.2,"v":11.85},{"h":4.25,"p":2.2,"v":12.15},{"h":4.5,"p":2.2,"v":12.45},{"h":4.75,"p":2.2,"v":12.8},{"h":5,"p":2.2,"v":13.2},
{"h":0,"p":2.3,"v":5.75},{"h":0.25,"p":2.3,"v":6.1},{"h":0.5,"p":2.3,"v":7.2},{"h":0.75,"p":2.3,"v":8.2},{"h":1,"p":2.3,"v":8.7},{"h":1.25,"p":2.3,"v":9.3},{"h":1.5,"p":2.3,"v":9.85},{"h":1.75,"p":2.3,"v":10.25},{"h":2,"p":2.3,"v":10.55},{"h":2.25,"p":2.3,"v":10.8},{"h":2.5,"p":2.3,"v":11.05},{"h":2.75,"p":2.3,"v":11.25},{"h":3,"p":2.3,"v":11.45},{"h":3.25,"p":2.3,"v":11.6},{"h":3.5,"p":2.3,"v":11.8},{"h":3.75,"p":2.3,"v":12},{"h":4,"p":2.3,"v":12.35},{"h":4.25,"p":2.3,"v":12.7},{"h":4.5,"p":2.3,"v":13},{"h":4.75,"p":2.3,"v":13.35},{"h":5,"p":2.3,"v":13.65},
{"h":0,"p":2.4,"v":5.95},{"h":0.25,"p":2.4,"v":6.5},{"h":0.5,"p":2.4,"v":7.6},{"h":0.75,"p":2.4,"v":8.6},{"h":1,"p":2.4,"v":9.1},{"h":1.25,"p":2.4,"v":9.8},{"h":1.5,"p":2.4,"v":10.2},{"h":1.75,"p":2.4,"v":10.65},{"h":2,"p":2.4,"v":11},{"h":2.25,"p":2.4,"v":11.35},{"h":2.5,"p":2.4,"v":11.6},{"h":2.75,"p":2.4,"v":11.8},{"h":3,"p":2.4,"v":11.95},{"h":3.25,"p":2.4,"v":12.1},{"h":3.5,"p":2.4,"v":12.3},{"h":3.75,"p":2.4,"v":12.5},{"h":4,"p":2.4,"v":12.8},{"h":4.25,"p":2.4,"v":13.1},{"h":4.5,"p":2.4,"v":13.4},{"h":4.75,"p":2.4,"v":13.7},{"h":5,"p":2.4,"v":13.95},
{"h":0,"p":2.5,"v":6.2},{"h":0.25,"p":2.5,"v":6.85},{"h":0.5,"p":2.5,"v":8},{"h":0.75,"p":2.5,"v":9},{"h":1,"p":2.5,"v":9.6},{"h":1.25,"p":2.5,"v":10.25},{"h":1.5,"p":2.5,"v":10.6},{"h":1.75,"p":2.5,"v":11.05},{"h":2,"p":2.5,"v":11.5},{"h":2.25,"p":2.5,"v":11.95},{"h":2.5,"p":2.5,"v":12.3},{"h":2.75,"p":2.5,"v":12.5},{"h":3,"p":2.5,"v":12.65},{"h":3.25,"p":2.5,"v":12.85},{"h":3.5,"p":2.5,"v":13},{"h":3.75,"p":2.5,"v":13.15},{"h":4,"p":2.5,"v":13.4},{"h":4.25,"p":2.5,"v":13.6},{"h":4.5,"p":2.5,"v":13.85},{"h":4.75,"p":2.5,"v":14.05},{"h":5,"p":2.5,"v":14.25},
{"h":0,"p":2.6,"v":6.4},{"h":0.25,"p":2.6,"v":7.2},{"h":0.5,"p":2.6,"v":8.2},{"h":0.75,"p":2.6,"v":9.3},{"h":1,"p":2.6,"v":10.05},{"h":1.25,"p":2.6,"v":10.6},{"h":1.5,"p":2.6,"v":11},{"h":1.75,"p":2.6,"v":11.5},{"h":2,"p":2.6,"v":12},{"h":2.25,"p":2.6,"v":12.5},{"h":2.5,"p":2.6,"v":12.8},{"h":2.75,"p":2.6,"v":13.05},{"h":3,"p":2.6,"v":13.25},{"h":3.25,"p":2.6,"v":13.45},{"h":3.5,"p":2.6,"v":13.6},{"h":3.75,"p":2.6,"v":13.75},{"h":4,"p":2.6,"v":13.9},{"h":4.25,"p":2.6,"v":14},{"h":4.5,"p":2.6,"v":14.2},{"h":4.75,"p":2.6,"v":14.4},{"h":5,"p":2.6,"v":14.6}
],
"linesA":[
{"c":"+1.5","s":"dash","h":1.836,"p":2.6},{"c":"+1.5","s":"dash","h":1.924,"p":2.559},{"c":"+1.5","s":"dash","h":2.078,"p":2.509},{"c":"+1.5","s":"dash","h":2.385,"p":2.467},{"c":"+1.5","s":"dash","h":2.634,"p":2.458},{"c":"+1.5","s":"dash","h":3.23,"p":2.467},{"c":"+1.5","s":"dash","h":3.575,"p":2.489},{"c":"+1.5","s":"dash","h":3.767,"p":2.442},{"c":"+1.5","s":"dash","h":4.074,"p":2.349},{"c":"+1.5","s":"dash","h":4.401,"p":2.273},{"c":"+1.5","s":"dash","h":4.478,"p":2.24},{"c":"+1.5","s":"dash","h":4.574,"p":2.172},{"c":"+1.5","s":"dash","h":4.651,"p":2.079},{"c":"+1.5","s":"dash","h":4.689,"p":1.995},{"c":"+1.5","s":"dash","h":4.7,"p":1.893},{"c":"+1.5","s":"dash","h":4.689,"p":1.86},{"c":"+1.5","s":"dash","h":4.631,"p":1.759},{"c":"+1.5","s":"dash","h":4.585,"p":1.703},{"c":"+1.5","s":"dash","h":4.343,"p":1.655},{"c":"+1.5","s":"dash","h":3.959,"p":1.611},{"c":"+1.5","s":"dash","h":3.575,"p":1.57},{"c":"+1.5","s":"dash","h":3.191,"p":1.514},{"c":"+1.5","s":"dash","h":2.807,"p":1.472},{"c":"+1.5","s":"dash","h":2.385,"p":1.43},{"c":"+1.5","s":"dash","h":2.231,"p":1.422},{"c":"+1.5","s":"dash","h":1.655,"p":1.405},{"c":"+1.5","s":"dash","h":1.079,"p":1.388},{"c":"+1.5","s":"dash","h":0.849,"p":1.372},{"c":"+1.5","s":"dash","h":0.541,"p":1.33},{"c":"+1.5","s":"dash","h":0.196,"p":1.249},{"c":"+1.5","s":"dash","h":0,"p":1.244},
{"c":"+2","s":"dash","h":0,"p":1.85},{"c":"+2","s":"dash","h":0.311,"p":1.855},{"c":"+2","s":"dash","h":0.522,"p":1.826},{"c":"+2","s":"dash","h":0.849,"p":1.809},{"c":"+2","s":"dash","h":1.156,"p":1.813},{"c":"+2","s":"dash","h":1.559,"p":1.826},{"c":"+2","s":"dash","h":1.924,"p":1.928},{"c":"+2","s":"dash","h":2.231,"p":2.012},{"c":"+2","s":"dash","h":2.462,"p":2.079},{"c":"+2","s":"dash","h":2.538,"p":2.086},{"c":"+2","s":"dash","h":2.646,"p":2.068},{"c":"+2","s":"dash","h":3.057,"p":1.843},{"c":"+2","s":"dash","h":3.118,"p":1.789},{"c":"+2","s":"dash","h":3.091,"p":1.725},{"c":"+2","s":"dash","h":3.045,"p":1.658},{"c":"+2","s":"dash","h":2.903,"p":1.614},{"c":"+2","s":"dash","h":2.615,"p":1.573},{"c":"+2","s":"dash","h":2.231,"p":1.548},{"c":"+2","s":"dash","h":1.924,"p":1.536},{"c":"+2","s":"dash","h":1.463,"p":1.503},{"c":"+2","s":"dash","h":1.079,"p":1.459},{"c":"+2","s":"dash","h":0.695,"p":1.43},{"c":"+2","s":"dash","h":0.465,"p":1.405},{"c":"+2","s":"dash","h":0.196,"p":1.355},{"c":"+2","s":"dash","h":0,"p":1.356},
{"c":"+2.5","s":"dash","h":0,"p":1.8},{"c":"+2.5","s":"dash","h":0.311,"p":1.8},{"c":"+2.5","s":"dash","h":0.449,"p":1.787},{"c":"+2.5","s":"dash","h":0.292,"p":1.486},{"c":"+2.5","s":"dash","h":0.242,"p":1.472},{"c":"+2.5","s":"dash","h":0,"p":1.471},
{"c":"+1","s":"solid","h":0,"p":1.152},{"c":"+1","s":"solid","h":0.196,"p":1.155},{"c":"+1","s":"solid","h":0.311,"p":1.186},{"c":"+1","s":"solid","h":0.522,"p":1.211},{"c":"+1","s":"solid","h":0.849,"p":1.262},{"c":"+1","s":"solid","h":1.079,"p":1.288},{"c":"+1","s":"solid","h":1.463,"p":1.313},{"c":"+1","s":"solid","h":1.847,"p":1.324},{"c":"+1","s":"solid","h":2.231,"p":1.33},{"c":"+1","s":"solid","h":2.615,"p":1.338},{"c":"+1","s":"solid","h":3.076,"p":1.38},{"c":"+1","s":"solid","h":3.575,"p":1.447},{"c":"+1","s":"solid","h":3.959,"p":1.489},{"c":"+1","s":"solid","h":4.459,"p":1.54},{"c":"+1","s":"solid","h":5,"p":1.587},
{"c":"+0.5","s":"solid","h":0,"p":0.739},{"c":"+0.5","s":"solid","h":0.081,"p":0.916},{"c":"+0.5","s":"solid","h":0.165,"p":1.018},{"c":"+0.5","s":"solid","h":0.599,"p":1.085},{"c":"+0.5","s":"solid","h":0.945,"p":1.147},{"c":"+0.5","s":"solid","h":1.156,"p":1.194},{"c":"+0.5","s":"solid","h":1.54,"p":1.228},{"c":"+0.5","s":"solid","h":1.962,"p":1.24},{"c":"+0.5","s":"solid","h":2.423,"p":1.253},{"c":"+0.5","s":"solid","h":2.999,"p":1.262},{"c":"+0.5","s":"solid","h":3.383,"p":1.304},{"c":"+0.5","s":"solid","h":3.959,"p":1.372},{"c":"+0.5","s":"solid","h":4.343,"p":1.414},{"c":"+0.5","s":"solid","h":5,"p":1.461},
{"c":"0","s":"solid","h":0.215,"p":0.542},{"c":"0","s":"solid","h":0.303,"p":0.664},{"c":"0","s":"solid","h":0.522,"p":0.762},{"c":"0","s":"solid","h":0.868,"p":1.015},{"c":"0","s":"solid","h":1.348,"p":1.06},{"c":"0","s":"solid","h":1.847,"p":1.102},{"c":"0","s":"solid","h":2.423,"p":1.152},{"c":"0","s":"solid","h":2.999,"p":1.177},{"c":"0","s":"solid","h":3.383,"p":1.183},{"c":"0","s":"solid","h":3.69,"p":1.199},{"c":"0","s":"solid","h":3.921,"p":1.244},{"c":"0","s":"solid","h":4.343,"p":1.296},{"c":"0","s":"solid","h":5,"p":1.33},
{"c":"-0.5","s":"solid","h":0.714,"p":0.5},{"c":"-0.5","s":"solid","h":1.002,"p":0.579},{"c":"-0.5","s":"solid","h":1.425,"p":0.677},{"c":"-0.5","s":"solid","h":1.502,"p":0.723},{"c":"-0.5","s":"solid","h":1.847,"p":0.971},{"c":"-0.5","s":"solid","h":2.423,"p":1.034},{"c":"-0.5","s":"solid","h":2.999,"p":1.082},{"c":"-0.5","s":"solid","h":3.383,"p":1.085},{"c":"-0.5","s":"solid","h":4.036,"p":1.105},{"c":"-0.5","s":"solid","h":5,"p":1.19},
{"c":"-1","s":"solid","h":2.031,"p":0.5},{"c":"-1","s":"solid","h":2.204,"p":0.545},{"c":"-1","s":"solid","h":2.538,"p":0.865},{"c":"-1","s":"solid","h":2.646,"p":0.929},{"c":"-1","s":"solid","h":2.999,"p":0.97},{"c":"-1","s":"solid","h":3.383,"p":0.993},{"c":"-1","s":"solid","h":4.151,"p":1.009},{"c":"-1","s":"solid","h":4.651,"p":1.012},{"c":"-1","s":"solid","h":5,"p":1.038},
{"c":"-1.5","s":"dash","h":2.953,"p":0.5},{"c":"-1.5","s":"dash","h":3.018,"p":0.579},{"c":"-1.5","s":"dash","h":3.191,"p":0.639},{"c":"-1.5","s":"dash","h":3.498,"p":0.697},{"c":"-1.5","s":"dash","h":3.844,"p":0.745},{"c":"-1.5","s":"dash","h":4.266,"p":0.773},{"c":"-1.5","s":"dash","h":4.535,"p":0.778},{"c":"-1.5","s":"dash","h":5,"p":0.778}
],
"labelsA":[
{"t":"+1.5","h":2.838,"p":2.472},{"t":"+2","h":1.82,"p":1.91},{"t":"+2.5","h":0.376,"p":1.628},{"t":"+2","h":1.559,"p":1.527},{"t":"+1.5","h":2.623,"p":1.469},{"t":"+1","h":4.581,"p":1.565},{"t":"+1","h":0.745,"p":1.288},{"t":"+0.5","h":3.107,"p":1.288},{"t":"0","h":3.921,"p":1.253},{"t":"+0.5","h":0.365,"p":1.051},{"t":"0","h":1.409,"p":1.082},{"t":"−0.5","h":3.114,"p":1.08},{"t":"−1","h":4.67,"p":1.038},{"t":"−1","h":2.396,"p":0.759},{"t":"−1.5","h":3.979,"p":0.771}
],
"linesB":[
{"c":"4","s":"solid","h":0,"p":1.452},{"c":"4","s":"solid","h":0.204,"p":1.452},{"c":"4","s":"solid","h":0.3,"p":1.296},{"c":"4","s":"solid","h":0.376,"p":1.228},{"c":"4","s":"solid","h":0.376,"p":1.118},{"c":"4","s":"solid","h":0.3,"p":1.054},{"c":"4","s":"solid","h":0.292,"p":0.798},{"c":"4","s":"solid","h":0.292,"p":0.596},{"c":"4","s":"solid","h":0.311,"p":0.5},
{"c":"6","s":"solid","h":0,"p":2.43},{"c":"6","s":"solid","h":0.204,"p":2.43},{"c":"6","s":"solid","h":0.223,"p":2.349},{"c":"6","s":"solid","h":0.319,"p":2.23},{"c":"6","s":"solid","h":0.415,"p":2.096},{"c":"6","s":"solid","h":0.53,"p":1.962},{"c":"6","s":"solid","h":0.76,"p":1.835},{"c":"6","s":"solid","h":0.799,"p":1.776},{"c":"6","s":"solid","h":0.895,"p":1.675},{"c":"6","s":"solid","h":1.125,"p":1.527},{"c":"6","s":"solid","h":1.279,"p":1.478},{"c":"6","s":"solid","h":1.663,"p":1.372},{"c":"6","s":"solid","h":2.124,"p":1.271},{"c":"6","s":"solid","h":2.354,"p":1.169},{"c":"6","s":"solid","h":2.623,"p":1.034},{"c":"6","s":"solid","h":2.757,"p":0.951},{"c":"6","s":"solid","h":2.784,"p":0.832},{"c":"6","s":"solid","h":2.776,"p":0.748},{"c":"6","s":"solid","h":2.68,"p":0.596},{"c":"6","s":"solid","h":2.654,"p":0.5},
{"c":"8","s":"solid","h":0.445,"p":2.6},{"c":"8","s":"solid","h":0.511,"p":2.483},{"c":"8","s":"solid","h":0.626,"p":2.349},{"c":"8","s":"solid","h":0.818,"p":2.214},{"c":"8","s":"solid","h":1.087,"p":2.104},{"c":"8","s":"solid","h":1.317,"p":2.02},{"c":"8","s":"solid","h":1.663,"p":1.944},{"c":"8","s":"solid","h":2.162,"p":1.868},{"c":"8","s":"solid","h":2.469,"p":1.793},{"c":"8","s":"solid","h":2.776,"p":1.725},{"c":"8","s":"solid","h":2.853,"p":1.7},{"c":"8","s":"solid","h":2.949,"p":1.616},{"c":"8","s":"solid","h":3.199,"p":1.531},{"c":"8","s":"solid","h":3.468,"p":1.414},{"c":"8","s":"solid","h":3.775,"p":1.249},{"c":"8","s":"solid","h":3.967,"p":1.144},{"c":"8","s":"solid","h":4.101,"p":1.034},{"c":"8","s":"solid","h":4.159,"p":0.924},{"c":"8","s":"solid","h":4.167,"p":0.798},{"c":"8","s":"solid","h":4.178,"p":0.629},{"c":"8","s":"solid","h":4.205,"p":0.5},
{"c":"10","s":"solid","h":0.972,"p":2.6},{"c":"10","s":"solid","h":1.087,"p":2.525},{"c":"10","s":"solid","h":1.279,"p":2.433},{"c":"10","s":"solid","h":1.663,"p":2.306},{"c":"10","s":"solid","h":2.162,"p":2.205},{"c":"10","s":"solid","h":2.623,"p":2.138},{"c":"10","s":"solid","h":3.007,"p":2.079},{"c":"10","s":"solid","h":3.583,"p":1.97},{"c":"10","s":"solid","h":3.698,"p":1.893},{"c":"10","s":"solid","h":3.89,"p":1.725},{"c":"10","s":"solid","h":4.025,"p":1.65},{"c":"10","s":"solid","h":4.236,"p":1.573},{"c":"10","s":"solid","h":4.543,"p":1.438},{"c":"10","s":"solid","h":5,"p":1.198},
{"c":"12","s":"dash","h":2.008,"p":2.6},{"c":"12","s":"dash","h":2.277,"p":2.525},{"c":"12","s":"dash","h":2.623,"p":2.467},{"c":"12","s":"dash","h":3.007,"p":2.416},{"c":"12","s":"dash","h":3.391,"p":2.374},{"c":"12","s":"dash","h":3.775,"p":2.306},{"c":"12","s":"dash","h":4.293,"p":2.235},{"c":"12","s":"dash","h":4.37,"p":2.205},{"c":"12","s":"dash","h":4.62,"p":2.029},{"c":"12","s":"dash","h":4.962,"p":1.823},
{"c":"14","s":"dash","h":4.236,"p":2.6},{"c":"14","s":"dash","h":4.543,"p":2.559},{"c":"14","s":"dash","h":5,"p":2.509}
],
"labelsB":[
{"t":"4","h":0.369,"p":1.147},{"t":"6","h":0.522,"p":2},{"t":"6","h":2.784,"p":0.913},{"t":"8","h":1.229,"p":2.059},{"t":"8","h":4.036,"p":1.08},{"t":"10","h":2.316,"p":2.214},{"t":"10","h":4.497,"p":1.498},{"t":"12","h":3.495,"p":2.366},{"t":"14","h":4.697,"p":2.53}
],
"sweetC":[
{"h":0.29,"p":1.06,"p2":0.63},{"h":0.3,"p":1.07,"p2":0.56},{"h":0.314,"p":1.08,"p2":0.5},{"h":0.37,"p":1.11,"p2":0.5},{"h":0.371,"p":1.19,"p2":0.5},{"h":0.505,"p":1.203,"p2":0.5},{"h":0.873,"p":1.267,"p2":0.5},{"h":1.262,"p":1.304,"p2":0.5},{"h":1.922,"p":1.324,"p2":0.5},{"h":2.019,"p":1.326,"p2":0.5},{"h":2.193,"p":1.329,"p2":0.545},{"h":2.426,"p":1.335,"p2":0.76},{"h":2.562,"p":1.348,"p2":0.882},{"h":2.632,"p":1.351,"p2":0.929},{"h":3.086,"p":1.377,"p2":0.967},{"h":3.125,"p":1.38,"p2":0.97},{"h":3.436,"p":1.425,"p2":0.985},{"h":3.591,"p":1.44,"p2":0.993},{"h":3.901,"p":1.489,"p2":1},{"h":4.328,"p":1.527,"p2":1.007},{"h":4.678,"p":1.56,"p2":1.012},{"h":5,"p":1.587,"p2":1.038}
],
"purpleC":[
{"c":"+1","h":0.369,"p":1.19},{"c":"+1","h":0.505,"p":1.203},{"c":"+1","h":0.873,"p":1.267},{"c":"+1","h":1.262,"p":1.304},{"c":"+1","h":1.922,"p":1.324},{"c":"+1","h":2.426,"p":1.335},{"c":"+1","h":3.086,"p":1.377},{"c":"+1","h":3.436,"p":1.425},{"c":"+1","h":3.901,"p":1.489},{"c":"+1","h":4.328,"p":1.527},{"c":"+1","h":5,"p":1.587},
{"c":"+0.5","h":0.291,"p":1.06},{"c":"+0.5","h":0.524,"p":1.102},{"c":"+0.5","h":0.796,"p":1.135},{"c":"+0.5","h":1.339,"p":1.194},{"c":"+0.5","h":1.611,"p":1.228},{"c":"+0.5","h":2.038,"p":1.24},{"c":"+0.5","h":2.543,"p":1.253},{"c":"+0.5","h":3.078,"p":1.271},{"c":"+0.5","h":3.436,"p":1.313},{"c":"+0.5","h":3.785,"p":1.346},{"c":"+0.5","h":4.251,"p":1.408},{"c":"+0.5","h":5,"p":1.461},
{"c":"0","h":0.291,"p":0.664},{"c":"0","h":0.512,"p":0.762},{"c":"0","h":0.873,"p":1.018},{"c":"0","h":1.495,"p":1.068},{"c":"0","h":2.038,"p":1.11},{"c":"0","h":2.426,"p":1.152},{"c":"0","h":3.009,"p":1.177},{"c":"0","h":3.358,"p":1.183},{"c":"0","h":3.668,"p":1.199},{"c":"0","h":3.901,"p":1.236},{"c":"0","h":4.29,"p":1.279},{"c":"0","h":5,"p":1.33},
{"c":"-0.5","h":0.71,"p":0.5},{"c":"-0.5","h":1.145,"p":0.613},{"c":"-0.5","h":1.417,"p":0.677},{"c":"-0.5","h":1.495,"p":0.723},{"c":"-0.5","h":1.844,"p":0.971},{"c":"-0.5","h":2.426,"p":1.034},{"c":"-0.5","h":3.047,"p":1.082},{"c":"-0.5","h":3.591,"p":1.085},{"c":"-0.5","h":4.018,"p":1.105},{"c":"-0.5","h":4.251,"p":1.135},{"c":"-0.5","h":5,"p":1.19},
{"c":"-1","h":2.019,"p":0.5},{"c":"-1","h":2.193,"p":0.545},{"c":"-1","h":2.562,"p":0.882},{"c":"-1","h":2.632,"p":0.929},{"c":"-1","h":3.125,"p":0.97},{"c":"-1","h":3.591,"p":0.993},{"c":"-1","h":4.678,"p":1.012},{"c":"-1","h":5,"p":1.038}
],
"greenC":[
{"c":"4","h":0.369,"p":1.186},{"c":"4","h":0.4,"p":1.152},{"c":"4","h":0.369,"p":1.11},{"c":"4","h":0.291,"p":1.06},{"c":"4","h":0.291,"p":0.9},{"c":"4","h":0.299,"p":0.714},{"c":"4","h":0.291,"p":0.629},{"c":"4","h":0.299,"p":0.562},{"c":"4","h":0.314,"p":0.5},
{"c":"6","h":1.933,"p":1.324},{"c":"6","h":2.155,"p":1.262},{"c":"6","h":2.388,"p":1.144},{"c":"6","h":2.581,"p":1.034},{"c":"6","h":2.76,"p":0.938},
{"c":"8","h":3.436,"p":1.425},{"c":"8","h":3.63,"p":1.33},{"c":"8","h":3.824,"p":1.203},{"c":"8","h":4.018,"p":1.11},{"c":"8","h":4.111,"p":1.004},
{"c":"10","h":4.336,"p":1.527},{"c":"10","h":4.561,"p":1.422},{"c":"10","h":4.794,"p":1.296},{"c":"10","h":5,"p":1.199}
],
"labelsPurpleC":[
{"t":"+0.5","h":1.002,"p":1.164},{"t":"0","h":1.572,"p":1.093},{"t":"−0.5","h":1.689,"p":0.845},{"t":"−1","h":2.333,"p":0.694},{"t":"0","h":3.04,"p":1.18},{"t":"−0.5","h":3.288,"p":1.08},{"t":"+0.5","h":4.01,"p":1.383},{"t":"0","h":4.301,"p":1.275},{"t":"−0.5","h":4.581,"p":1.16}
],
"labelsGreenC":[
{"t":"4","h":0.311,"p":0.862},{"t":"6","h":2.531,"p":1.093},{"t":"8","h":3.94,"p":1.183},{"t":"10","h":4.705,"p":1.375}
],
"dashC":[
{"r":"1.8","h":0,"p":1.8},{"r":"1.8","h":5,"p":1.8},{"r":"1.2","h":0,"p":1.2},{"r":"1.2","h":5,"p":1.2},{"r":"0.9","h":0,"p":0.9},{"r":"0.9","h":5,"p":0.9}
],
"leadC":[
{"r":"1.8","h":5,"p":1.8},{"r":"1.8","h":5.16,"p":1.8},{"r":"1.2","h":5,"p":1.2},{"r":"1.2","h":5.16,"p":1.2},{"r":"0.9","h":5,"p":0.9},{"r":"0.9","h":5.16,"p":0.9}
],
"markC":[
{"r":"1.8","h":5.19,"p":1.8},{"r":"1.2","h":5.19,"p":1.2},{"r":"0.9","h":5.19,"p":0.9}
],
"arrowC":[
{"r":"shaft","h":3.078,"p":1.464},{"r":"shaft","h":3.3,"p":1.245},{"r":"head","h":3.214,"p":1.253},{"r":"head","h":3.3,"p":1.242},{"r":"head","h":3.345,"p":1.29}
]
},
"spacing":17,
"resolve":{"scale":{"color":"independent"}},
"hconcat":[
{"width":597,"height":597,"title":{"text":"a","dx":-94},
"encoding":{"x":{"field":"h","type":"quantitative","title":"H₂O (wt%)","scale":{"domain":[0,5]},"axis":{"values":[0,1,2,3,4,5],"format":"d","labelFlush":false}},"y":{"field":"p","type":"quantitative","title":"Pressure (GPa)","scale":{"domain":[0.5,2.6]},"axis":{"values":[0.5,1,1.5,2,2.6],"labelExpr":"datum.value>2.5?'2.5':format(datum.value,'.1f')"}}},
"layer":[
{"data":{"name":"heatA"},"mark":{"type":"rect","width":30.5,"height":29,"clip":true},"encoding":{"color":{"field":"v","type":"quantitative","scale":{"scheme":"plasma","domain":[-1.7,2.7]},"legend":null}}},
{"data":{"name":"heatA"},"mark":{"type":"rect","width":60,"height":57,"opacity":0.5,"clip":true,"xOffset":-3.7,"yOffset":7},"encoding":{"color":{"field":"v","type":"quantitative","scale":{"scheme":"plasma","domain":[-1.7,2.7]},"legend":null}}},
{"data":{"name":"ticksAB"},"mark":{"type":"line","stroke":"#222","strokeWidth":1.3},"encoding":{"detail":{"field":"r"},"order":{"value":null}}},
{"data":{"name":"linesA"},"mark":{"type":"line","stroke":"black","strokeWidth":2},"encoding":{"detail":{"field":"c"},"order":{"value":null},"strokeDash":{"field":"s","type":"nominal","scale":{"domain":["solid","dash"],"range":[[1,0],[7,3]]},"legend":null}}},
{"data":{"name":"labelsA"},"mark":{"type":"text","fontSize":25,"stroke":"white","strokeWidth":4,"strokeJoin":"round"},"encoding":{"text":{"field":"t"}}},
{"data":{"name":"labelsA"},"mark":{"type":"text","fontSize":25,"fill":"black"},"encoding":{"text":{"field":"t"}}}
]},
{"width":597,"height":597,"title":{"text":"b","dx":-98},
"encoding":{"x":{"field":"h","type":"quantitative","title":"H₂O (wt%)","scale":{"domain":[0,5]},"axis":{"values":[0,1,2,3,4,5],"format":"d","labelFlush":false}},"y":{"field":"p","type":"quantitative","title":"Pressure (GPa)","scale":{"domain":[0.5,2.6]},"axis":{"values":[0.5,1,1.5,2,2.6],"labelExpr":"datum.value>2.5?'2.5':format(datum.value,'.1f')"}}},
"layer":[
{"data":{"name":"heatB"},"mark":{"type":"rect","width":30.5,"height":29,"clip":true},"encoding":{"color":{"field":"v","type":"quantitative","scale":{"scheme":"plasma","domain":[2.7,14.6]},"legend":null}}},
{"data":{"name":"heatB"},"mark":{"type":"rect","width":60,"height":57,"opacity":0.5,"clip":true,"xOffset":-3.7,"yOffset":7},"encoding":{"color":{"field":"v","type":"quantitative","scale":{"scheme":"plasma","domain":[2.7,14.6]},"legend":null}}},
{"data":{"name":"ticksAB"},"mark":{"type":"line","stroke":"#222","strokeWidth":1.3},"encoding":{"detail":{"field":"r"},"order":{"value":null}}},
{"data":{"name":"linesB"},"mark":{"type":"line","stroke":"black","strokeWidth":2},"encoding":{"detail":{"field":"c"},"order":{"value":null},"strokeDash":{"field":"s","type":"nominal","scale":{"domain":["solid","dash"],"range":[[1,0],[7,3]]},"legend":null}}},
{"data":{"name":"labelsB"},"mark":{"type":"text","fontSize":25,"stroke":"white","strokeWidth":4,"strokeJoin":"round"},"encoding":{"text":{"field":"t"}}},
{"data":{"name":"labelsB"},"mark":{"type":"text","fontSize":25,"fill":"black"},"encoding":{"text":{"field":"t"}}}
]},
{"width":597,"height":597,"title":{"text":"c","dx":2},"view":{"stroke":"#444"},
"resolve":{"axis":{"y":"independent"}},
"layer":[
{"data":{"name":"sweetC"},"mark":{"type":"area","fill":"#d6d6d6"},"encoding":{"x":{"field":"h","type":"quantitative","title":"H₂O (wt%)","scale":{"domain":[0,5]},"axis":{"values":[0,1,2,3,4,5],"format":"d","labelFlush":false,"titlePadding":19}},"y":{"field":"p","type":"quantitative","title":null,"scale":{"domain":[0.5,2.6]},"axis":{"orient":"left","labels":false,"minExtent":30}},"y2":{"field":"p2"}}},
{"data":{"name":"ticksC"},"mark":{"type":"line","stroke":"#222","strokeWidth":1.3},"encoding":{"x":{"field":"h","type":"quantitative"},"y":{"field":"p","type":"quantitative","axis":null,"scale":{"domain":[0.5,2.6]}},"detail":{"field":"r"},"order":{"value":null}}},
{"data":{"name":"dashC"},"mark":{"type":"line","stroke":"#777","strokeWidth":1.6,"strokeDash":[8,4]},"encoding":{"x":{"field":"h","type":"quantitative"},"y":{"field":"p","type":"quantitative","title":"Pressure (GPa)","scale":{"domain":[0.5,2.6]},"axis":{"orient":"right","values":[0.5,1,1.5,2,2.6],"labelExpr":"datum.value>2.5?'2.5':format(datum.value,'.1f')","labelPadding":15,"titleAngle":90,"titlePadding":11}},"detail":{"field":"r"}}},
{"data":{"name":"leadC"},"mark":{"type":"line","stroke":"#222","strokeWidth":1.2},"encoding":{"x":{"field":"h","type":"quantitative"},"y":{"field":"p","type":"quantitative","axis":null,"scale":{"domain":[0.5,2.6]}},"detail":{"field":"r"}}},
{"data":{"name":"markC"},"mark":{"type":"point","size":30,"fill":"white","stroke":"#222","strokeWidth":1,"opacity":1},"encoding":{"x":{"field":"h","type":"quantitative"},"y":{"field":"p","type":"quantitative","axis":null,"scale":{"domain":[0.5,2.6]}},"shape":{"field":"r","type":"nominal","scale":{"domain":["1.8","1.2","0.9"],"range":["circle","square","triangle-left"]},"legend":null}}},
{"data":{"name":"purpleC"},"mark":{"type":"line","stroke":"#5a2d91","strokeWidth":2},"encoding":{"x":{"field":"h","type":"quantitative"},"y":{"field":"p","type":"quantitative","axis":null,"scale":{"domain":[0.5,2.6]}},"detail":{"field":"c"},"order":{"value":null}}},
{"data":{"name":"greenC"},"mark":{"type":"line","stroke":"#1aa56a","strokeWidth":2,"strokeDash":[6,3]},"encoding":{"x":{"field":"h","type":"quantitative"},"y":{"field":"p","type":"quantitative","axis":null,"scale":{"domain":[0.5,2.6]}},"detail":{"field":"c"},"order":{"value":null}}},
{"data":{"name":"arrowC"},"mark":{"type":"line","stroke":"black","strokeWidth":2},"encoding":{"x":{"field":"h","type":"quantitative"},"y":{"field":"p","type":"quantitative","axis":null,"scale":{"domain":[0.5,2.6]}},"detail":{"field":"r"},"order":{"value":null}}},
{"data":{"name":"labelsPurpleC"},"mark":{"type":"text","fontSize":25,"stroke":"white","strokeWidth":4,"strokeJoin":"round"},"encoding":{"x":{"field":"h","type":"quantitative"},"y":{"field":"p","type":"quantitative","axis":null,"scale":{"domain":[0.5,2.6]}},"text":{"field":"t"}}},
{"data":{"name":"labelsPurpleC"},"mark":{"type":"text","fontSize":25,"fill":"#5a2d91"},"encoding":{"x":{"field":"h","type":"quantitative"},"y":{"field":"p","type":"quantitative","axis":null,"scale":{"domain":[0.5,2.6]}},"text":{"field":"t"}}},
{"data":{"name":"labelsGreenC"},"mark":{"type":"text","fontSize":25,"stroke":"white","strokeWidth":4,"strokeJoin":"round"},"encoding":{"x":{"field":"h","type":"quantitative"},"y":{"field":"p","type":"quantitative","axis":null,"scale":{"domain":[0.5,2.6]}},"text":{"field":"t"}}},
{"data":{"name":"labelsGreenC"},"mark":{"type":"text","fontSize":25,"fill":"#1aa56a"},"encoding":{"x":{"field":"h","type":"quantitative"},"y":{"field":"p","type":"quantitative","axis":null,"scale":{"domain":[0.5,2.6]}},"text":{"field":"t"}}},
{"data":{"values":[{"t":"f","h":0.912,"p":1.585}]},"mark":{"type":"text","fontSize":26,"fontStyle":"italic","align":"left","fill":"#111"},"encoding":{"x":{"field":"h","type":"quantitative"},"y":{"field":"p","type":"quantitative","axis":null,"scale":{"domain":[0.5,2.6]}},"text":{"field":"t"}}},
{"data":{"values":[{"t":"O₂ and H₂O sweet-spot window","h":0.98,"p":1.585}]},"mark":{"type":"text","fontSize":26,"align":"left","fill":"#111"},"encoding":{"x":{"field":"h","type":"quantitative"},"y":{"field":"p","type":"quantitative","axis":null,"scale":{"domain":[0.5,2.6]}},"text":{"field":"t"}}}
]}
]
}
